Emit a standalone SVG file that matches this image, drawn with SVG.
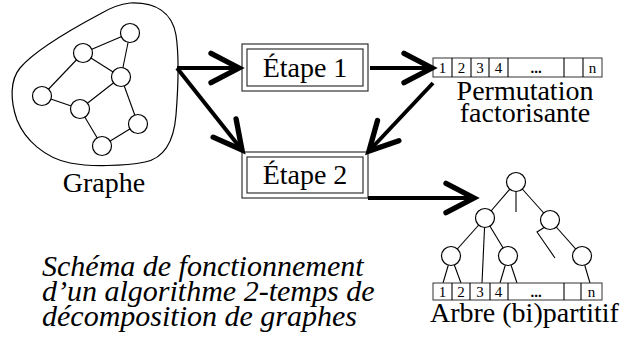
<svg xmlns="http://www.w3.org/2000/svg" width="630" height="349" viewBox="0 0 630 349">
<style>
text{font-family:"Liberation Serif",Tinos,"Times New Roman","DejaVu Serif",serif}
.lbl{font-size:28px}
.num{font-size:15px;text-anchor:middle}
.it{font-size:30px;font-style:italic}
.node{fill:#fff;stroke:#000;stroke-width:1.2}
.edge{stroke:#000;stroke-width:1.1;fill:none}
.box{fill:none;stroke:#333;stroke-width:1.2}
.cell{fill:#fff;stroke:#333;stroke-width:1}
.arrow{stroke:#000;stroke-width:4;fill:none;marker-end:url(#ah)}
</style>
<defs>
<marker id="ah" markerUnits="userSpaceOnUse" markerWidth="40" markerHeight="40" viewBox="-25 -15 30 30" refX="0" refY="0" orient="auto" overflow="visible">
<path d="M-21,-11 L0,0 L-21,11" fill="none" stroke="#000" stroke-width="4" stroke-linecap="round" stroke-linejoin="miter"/>
</marker>
</defs>

<g id="graphe">
<path d="M130,3 C155,2 172,12 176,35 C179,55 178,90 176,115 C174,140 165,158 145,162 C125,166 90,167 70,163 C45,158 25,140 17,120 C10,100 10,80 20,68 C35,50 70,30 100,14 C110,8 120,4 130,3 Z" fill="none" stroke="#000" stroke-width="1.2"/>
<g class="edge">
<line x1="130" y1="33" x2="83" y2="53"/>
<line x1="130" y1="33" x2="121" y2="77"/>
<line x1="83" y1="53" x2="121" y2="77"/>
<line x1="83" y1="53" x2="42" y2="96"/>
<line x1="42" y1="96" x2="80" y2="109"/>
<line x1="80" y1="109" x2="121" y2="77"/>
<line x1="121" y1="77" x2="138" y2="124"/>
<line x1="138" y1="124" x2="102" y2="146"/>
<line x1="102" y1="146" x2="80" y2="109"/>
</g>
<circle class="node" cx="130" cy="33" r="9.5"/>
<circle class="node" cx="83" cy="53" r="9.5"/>
<circle class="node" cx="121" cy="77" r="9.5"/>
<circle class="node" cx="42" cy="96" r="9.5"/>
<circle class="node" cx="80" cy="109" r="9.5"/>
<circle class="node" cx="138" cy="124" r="9.5"/>
<circle class="node" cx="102" cy="146" r="9.5"/>
<text class="lbl" x="104" y="192" text-anchor="middle">Graphe</text>
</g>

<g id="etape1">
<rect class="box" x="242" y="44" width="126" height="47"/>
<rect class="box" x="247" y="49" width="116" height="37"/>
<text class="lbl" x="305" y="77" text-anchor="middle">Étape 1</text>
</g>

<g id="etape2">
<rect class="box" x="242" y="152" width="126" height="46"/>
<rect class="box" x="247" y="157" width="116" height="36"/>
<text class="lbl" x="305" y="184" text-anchor="middle">Étape 2</text>
</g>

<g id="permutation">
<rect class="cell" x="433" y="58" width="169" height="19"/>
<g class="edge">
<line x1="452" y1="58" x2="452" y2="77"/>
<line x1="471" y1="58" x2="471" y2="77"/>
<line x1="489" y1="58" x2="489" y2="77"/>
<line x1="508" y1="58" x2="508" y2="77"/>
<line x1="564" y1="58" x2="564" y2="77"/>
<line x1="583" y1="58" x2="583" y2="77"/>
</g>
<text class="num" x="442.5" y="73">1</text>
<text class="num" x="461.5" y="73">2</text>
<text class="num" x="480" y="73">3</text>
<text class="num" x="498.5" y="73">4</text>
<text class="num" x="536" y="73" font-weight="bold">...</text>
<text class="num" x="592.5" y="73">n</text>
<text class="lbl" x="525" y="100" text-anchor="middle">Permutation</text>
<text class="lbl" x="525" y="122" text-anchor="middle">factorisante</text>
</g>

<g id="arbre">
<g class="edge">
<line x1="516" y1="182" x2="485" y2="218"/>
<line x1="516" y1="182" x2="550" y2="220"/>
<line x1="516" y1="182" x2="516" y2="212"/>
<line x1="485" y1="218" x2="451" y2="256"/>
<line x1="485" y1="218" x2="508" y2="256"/>
<line x1="485" y1="218" x2="482" y2="283"/>
<line x1="550" y1="220" x2="582" y2="256"/>
<polyline points="545,227 537,232 555,258"/>
<line x1="451" y1="256" x2="443" y2="283"/>
<line x1="451" y1="256" x2="461" y2="283"/>
<line x1="508" y1="256" x2="500" y2="283"/>
<line x1="508" y1="256" x2="517" y2="283"/>
<line x1="582" y1="256" x2="590" y2="283"/>
</g>
<circle class="node" cx="516" cy="182" r="9.5"/>
<circle class="node" cx="485" cy="218" r="9.5"/>
<circle class="node" cx="550" cy="220" r="9.5"/>
<circle class="node" cx="451" cy="256" r="9.5"/>
<circle class="node" cx="508" cy="256" r="9.5"/>
<circle class="node" cx="582" cy="256" r="9.5"/>
<rect class="cell" x="433" y="283" width="169" height="17"/>
<g class="edge">
<line x1="452" y1="283" x2="452" y2="300"/>
<line x1="470" y1="283" x2="470" y2="300"/>
<line x1="490" y1="283" x2="490" y2="300"/>
<line x1="508" y1="283" x2="508" y2="300"/>
<line x1="564" y1="283" x2="564" y2="300"/>
<line x1="581" y1="283" x2="581" y2="300"/>
</g>
<text class="num" x="442.5" y="297">1</text>
<text class="num" x="461" y="297">2</text>
<text class="num" x="480" y="297">3</text>
<text class="num" x="498.5" y="297">4</text>
<text class="num" x="536" y="297" font-weight="bold">...</text>
<text class="num" x="591.5" y="297">n</text>
<text class="lbl" x="430" y="322" font-size="29">Arbre (bi)partitif</text>
</g>

<g id="legende">
<text class="it" x="42" y="276">Schéma de fonctionnement</text>
<text class="it" x="42" y="301">d’un algorithme 2-temps de</text>
<text class="it" x="42" y="326">décomposition de graphes</text>
</g>

<g id="connecteurs">
<line class="arrow" x1="177" y1="68" x2="239" y2="68"/>
<line class="arrow" x1="177" y1="68" x2="242" y2="150"/>
<line class="arrow" x1="370" y1="68" x2="432" y2="68"/>
<line class="arrow" x1="433" y1="83" x2="369" y2="151"/>
<polyline class="arrow" points="368,198 474,198"/>
</g>
</svg>
